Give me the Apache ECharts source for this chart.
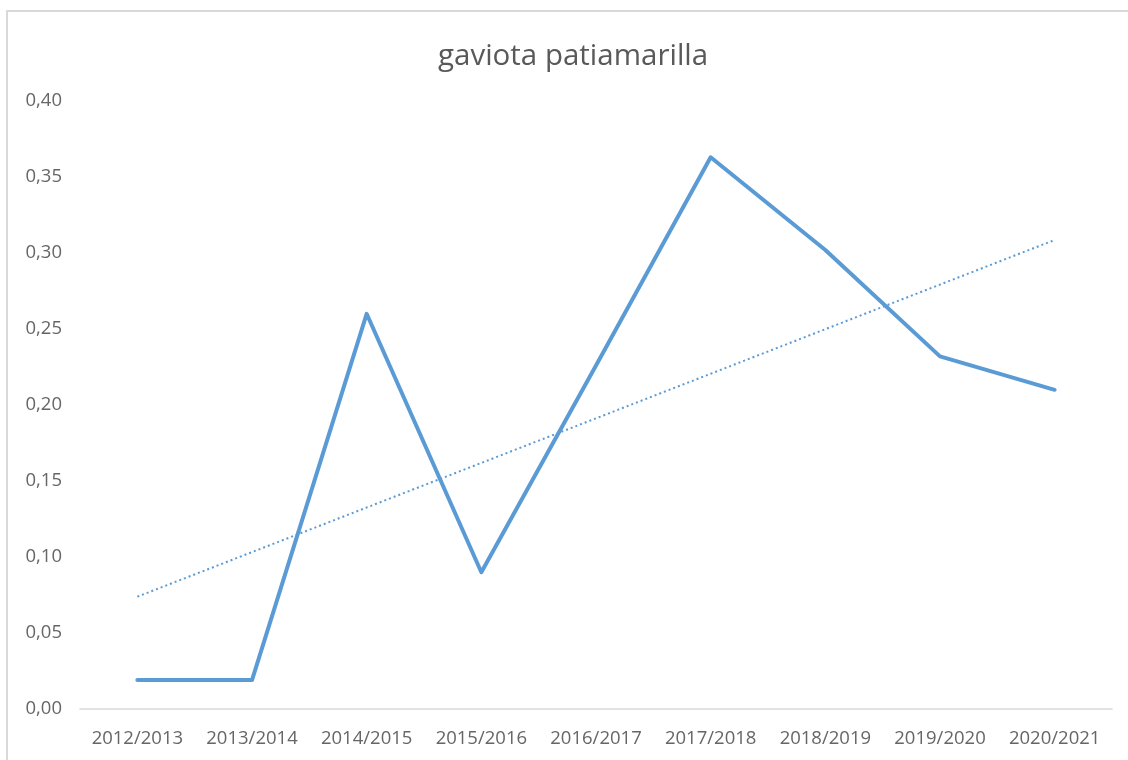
<!DOCTYPE html>
<html>
<head>
<meta charset="utf-8">
<script src="https://cdn.jsdelivr.net/npm/echarts@6/dist/echarts.min.js"></script>
<style>
html,body{margin:0;padding:0;background:#fff;}
#frame{position:absolute;left:6px;top:10px;width:1130px;height:760px;border-left:2px solid #d9d9d9;border-top:2px solid #d9d9d9;box-sizing:border-box;}
#chart{position:absolute;left:0;top:0;width:1128px;height:760px;}
</style>
</head>
<body>
<div id="frame"></div>
<div id="chart"></div>
<script>
const titleText = 'gaviota patiamarilla';
const categories = ['2012/2013','2013/2014','2014/2015','2015/2016','2016/2017','2017/2018','2018/2019','2019/2020','2020/2021'];
const values = [0.019, 0.019, 0.260, 0.090, 0.226, 0.363, 0.302, 0.232, 0.210];

// linear trendline (least squares) from the data
function trend(vals){
  const n = vals.length;
  let sx=0, sy=0, sxy=0, sxx=0;
  vals.forEach((v,i)=>{const x=i+1; sx+=x; sy+=v; sxy+=x*v; sxx+=x*x;});
  const b = (n*sxy - sx*sy)/(n*sxx - sx*sx);
  const a = (sy - b*sx)/n;
  return vals.map((v,i)=>a+b*(i+1));
}
const trendValues = trend(values);

const chart = echarts.init(document.getElementById('chart'), null, {renderer:'canvas'});
chart.setOption({
  backgroundColor: 'transparent',
  animation: false,
  title: {
    text: titleText,
    left: 433,
    top: 37,
    textStyle: {fontFamily: 'Open Sans', fontSize: 29.5, fontWeight: 'normal', color: '#595959'}
  },
  grid: {left: 80, right: 16, top: 101, bottom: 51, containLabel: false},
  xAxis: {
    type: 'category',
    data: categories,
    boundaryGap: true,
    axisLine: {lineStyle: {color: '#d9d9d9', width: 1.5}},
    axisTick: {show: false},
    axisLabel: {color: '#666666', fontFamily: 'Open Sans', fontSize: 18.5, margin: 20, interval: 0, hideOverlap: false}
  },
  yAxis: {
    type: 'value',
    min: 0, max: 0.4, interval: 0.05,
    axisLine: {show: false},
    axisTick: {show: false},
    splitLine: {show: false},
    axisLabel: {
      color: '#666666', fontFamily: 'Open Sans', fontSize: 18.5, margin: 18,
      formatter: v => v.toFixed(2).replace('.', ',')
    }
  },
  series: [
    {
      type: 'line', data: values, symbol: 'none',
      lineStyle: {color: '#5b9bd5', width: 4, join: 'round', cap: 'round'},
      z: 3
    },
    {
      type: 'line', data: trendValues, symbol: 'none',
      lineStyle: {color: '#5b9bd5', width: 2, type: [2, 3]},
      z: 2
    }
  ]
});
</script>
</body>
</html>
